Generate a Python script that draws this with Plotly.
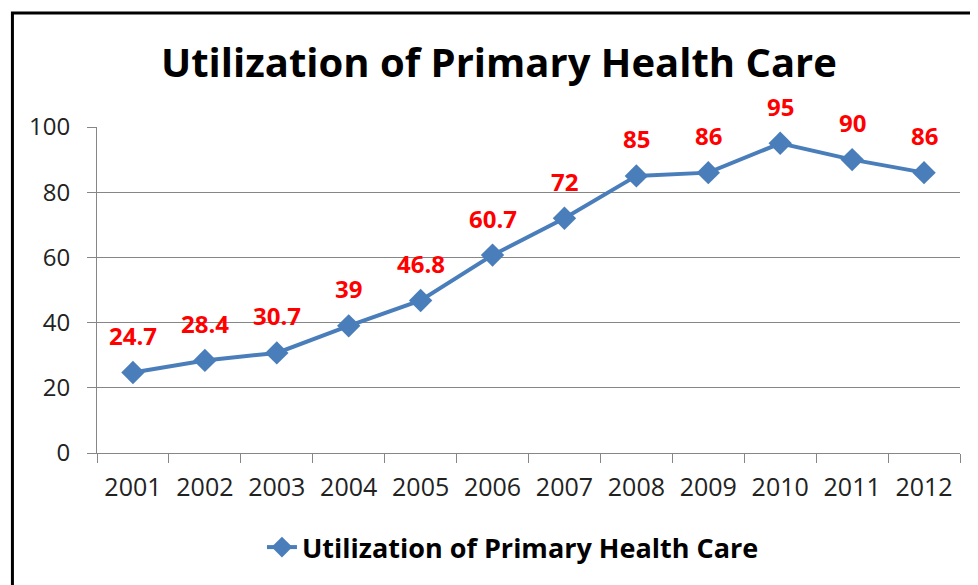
import plotly.graph_objects as go

years = ["2001", "2002", "2003", "2004", "2005", "2006", "2007", "2008", "2009", "2010", "2011", "2012"]
values = [24.7, 28.4, 30.7, 39, 46.8, 60.7, 72, 85, 86, 95, 90, 86]
label_texts = ["24.7", "28.4", "30.7", "39", "46.8", "60.7", "72", "85", "86", "95", "90", "86"]
series_name = "Utilization of Primary Health Care"
title_text = "Utilization of Primary Health Care"
y_ticks = [0, 20, 40, 60, 80, 100]

FONT = "'Open Sans', 'Noto Sans', sans-serif"
LINE_COLOR = "#4a7ebb"

fig = go.Figure()
fig.add_trace(go.Scatter(
    x=years, y=values, mode="lines+markers", name=series_name,
    line=dict(color=LINE_COLOR, width=4),
    marker=dict(symbol="diamond", size=18, color=LINE_COLOR),
))

annotations = [
    dict(x=i, y=v, text=t, showarrow=False, yshift=37, xref="x", yref="y",
         xanchor="center", yanchor="middle", borderpad=0,
         font=dict(family=FONT, size=24, color="#ff0000", weight="bold"))
    for i, (v, t) in enumerate(zip(values, label_texts))
]
annotations.append(dict(
    text=title_text, xref="paper", yref="paper", x=0.466, y=1.2,
    xanchor="center", yanchor="middle", showarrow=False, borderpad=0,
    font=dict(family=FONT, size=40, color="#000000", weight="bold")))

fig.update_layout(
    width=970, height=577,
    margin=dict(l=89, r=18, t=119, b=132),
    paper_bgcolor="white", plot_bgcolor="white",
    showlegend=True,
    legend=dict(orientation="h", x=0.482, xanchor="center", y=-0.29, yanchor="middle",
                font=dict(family=FONT, size=27, color="#000000", weight="bold")),
    annotations=annotations,
    xaxis=dict(type="category", tickson="boundaries", ticks="outside", ticklen=9,
               tickcolor="#868686", showline=True, linecolor="#868686", linewidth=1,
               showgrid=False, range=[-0.5, 11.5], ticklabelstandoff=12,
               tickfont=dict(family=FONT, size=25, color="#222222")),
    yaxis=dict(range=[0, 100], tickvals=y_ticks, ticks="outside", ticklen=9,
               tickcolor="#868686", showline=True, linecolor="#868686", linewidth=1,
               showgrid=True, gridcolor="#868686", gridwidth=1, zeroline=False,
               ticklabelstandoff=12,
               tickfont=dict(family=FONT, size=24, color="#222222")),
    shapes=[dict(type="rect", xref="paper", yref="paper",
                 x0=-0.098, x1=1.2, y0=-1.0, y1=1.35,
                 line=dict(color="black", width=3), fillcolor="rgba(0,0,0,0)")],
)

fig.write_html("out.html")
